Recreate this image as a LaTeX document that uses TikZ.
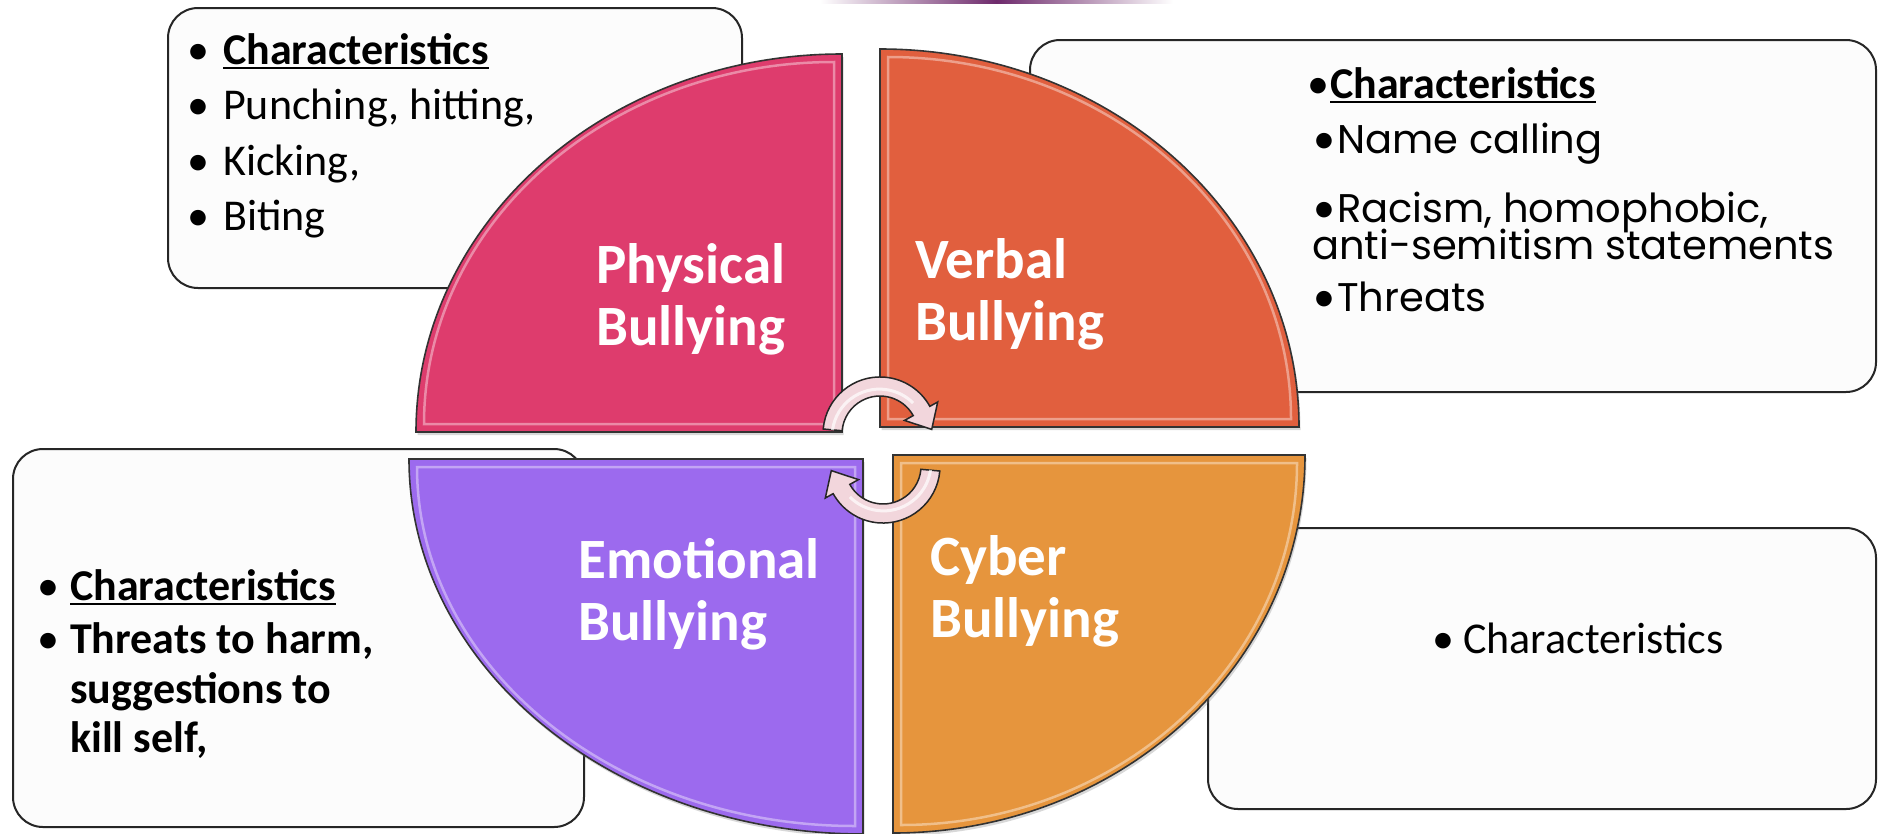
\documentclass[tikz,border=0pt]{standalone}
\usepackage{fontspec}
\setmainfont{Carlito}
\newfontfamily\gothic{Poppins}
\usetikzlibrary{shadows}
\definecolor{physc}{HTML}{DE3C6D}
\definecolor{verbc}{HTML}{E15F3E}
\definecolor{emoc}{HTML}{9C6AEE}
\definecolor{cybc}{HTML}{E6953D}
\definecolor{boxfill}{HTML}{FCFCFC}
\definecolor{arrfill}{HTML}{F2D6DC}
\definecolor{topline}{HTML}{6E2A6C}
\newcommand\myul[1]{\setbox0\hbox{#1}\rlap{\rule[-5pt]{\wd0}{2pt}}\box0}
\newcommand\bul[1]{\llap{{\rmfamily\mdseries\fontsize{44}{50}\selectfont\textbullet}\hspace{#1}}}
\newcommand\arrpath{(823.2,429) arc[start angle=175, end angle=29, radius=57pt]
  -- (937.7,402) -- (931.7,429.4) -- (904.5,420.4) -- (913.2,415.6)
  arc[start angle=29, end angle=175, radius=38pt] -- cycle}
\begin{document}
\begin{tikzpicture}[x=1pt,y=-1pt,
  infobox/.style={draw=black!85, line width=2pt, fill=boxfill, rounded corners=30pt},
  quad/.style={draw=black!80, line width=1.6pt, drop shadow={opacity=0.3, shadow xshift=1.5pt, shadow yshift=-3pt}},
  bevel/.style={draw=white, line width=2.5pt, opacity=0.4},
  lbl/.style={text=white, font=\fontsize{57}{62}\selectfont\bfseries, anchor=base west, inner sep=0pt},
  txt/.style={font=\fontsize{44}{50}\selectfont, anchor=base west, inner sep=0pt},
  btxt/.style={font=\fontsize{44}{50}\selectfont\bfseries, anchor=base west, inner sep=0pt},
  gtxt/.style={font=\fontsize{40}{44}\selectfont\gothic, anchor=base west, inner sep=0pt},
  cyc/.style={fill=arrfill, draw=black!85, line width=1.5pt}]
\useasboundingbox (0,0) rectangle (1878,833);
\fill[white] (0,0) rectangle (1878,833);
% top purple line
\shade[left color=white, right color=white, middle color=topline] (820,0) rectangle (1173,3);
% boxes
\draw[infobox] (168,8) rectangle (742,288);
\draw[infobox] (1030,40) rectangle (1876,392);
\draw[infobox] (13,449) rectangle (584,827);
\draw[infobox] (1208,528) rectangle (1876,809);
% quadrants
\path[quad, fill=physc] (842,432) -- (842,54) arc[start angle=90, end angle=180, x radius=426pt, y radius=378pt] -- cycle;
\path[bevel] (834,424) -- (834,62) arc[start angle=90, end angle=180, x radius=410pt, y radius=362pt] -- cycle;
\path[quad, fill=verbc] (880,427) -- (880,49) arc[start angle=90, end angle=0, x radius=419pt, y radius=378pt] -- cycle;
\path[bevel] (888,419) -- (888,57) arc[start angle=90, end angle=0, x radius=403pt, y radius=362pt] -- cycle;
\path[quad, fill=emoc] (863,459) -- (409,459) arc[start angle=180, end angle=270, x radius=454pt, y radius=375pt] -- cycle;
\path[bevel] (855,467) -- (417,467) arc[start angle=180, end angle=270, x radius=438pt, y radius=359pt] -- cycle;
\path[quad, fill=cybc] (893,455) -- (893,833) arc[start angle=270, end angle=360, x radius=412pt, y radius=378pt] -- cycle;
\path[bevel] (901,463) -- (901,825) arc[start angle=270, end angle=360, x radius=396pt, y radius=362pt] -- cycle;
% cycle arrows
\draw[cyc] \arrpath;
\draw[white, line width=3pt, opacity=0.7] (832.5,430) arc[start angle=172, end angle=45, radius=47.5pt];
\begin{scope}[rotate around={180:(881.5,450)}]
\draw[cyc] \arrpath;
\draw[white, line width=3pt, opacity=0.7] (832.5,430) arc[start angle=172, end angle=45, radius=47.5pt];
\end{scope}
% quadrant labels
\node[lbl] (phys1) at (596,283) {Physical};
\node[lbl] (phys2) at (596,345) {Bullying};
\node[lbl] (verb1) at (915,278) {Verbal};
\node[lbl] (verb2) at (915,340) {Bullying};
\node[lbl] (emo1) at (578,578) {Emotional};
\node[lbl] (emo2) at (578,640) {Bullying};
\node[lbl] (cyb1) at (930,575) {Cyber};
\node[lbl] (cyb2) at (930,637) {Bullying};
% top-left box text
\node[btxt] (tl1) at (223,64) {\bul{14pt}\myul{Characteristics}};
\node[txt] (tl2) at (223,119) {\bul{14pt}Punching, hitting,};
\node[txt] (tl3) at (223,175) {\bul{14pt}Kicking,};
\node[txt] (tl4) at (223,230) {\bul{14pt}Biting};
% top-right box text
\node[btxt] (tr1) at (1330,98) {\bul{1pt}\myul{Characteristics}};
\node[gtxt] (tr2) at (1337,153) {\bul{2pt}Name calling};
\node[gtxt] (tr3) at (1337,222) {\bul{2pt}Racism, homophobic,};
\node[gtxt] (tr4) at (1312,259) {anti-semitism statements};
\node[gtxt] (tr5) at (1337,311) {\bul{2pt}Threats};
% bottom-left box text
\node[btxt] (bl1) at (70,600) {\bul{11pt}\myul{Characteristics}};
\node[btxt] (bl2) at (70,653) {\bul{11pt}Threats to harm,};
\node[btxt] (bl3) at (70,703) {suggestions to};
\node[btxt] (bl4) at (70,752) {kill self,};
% bottom-right box text
\node[txt] (br1) at (1463,653) {\bul{9pt}Characteristics};
\end{tikzpicture}
\end{document}
